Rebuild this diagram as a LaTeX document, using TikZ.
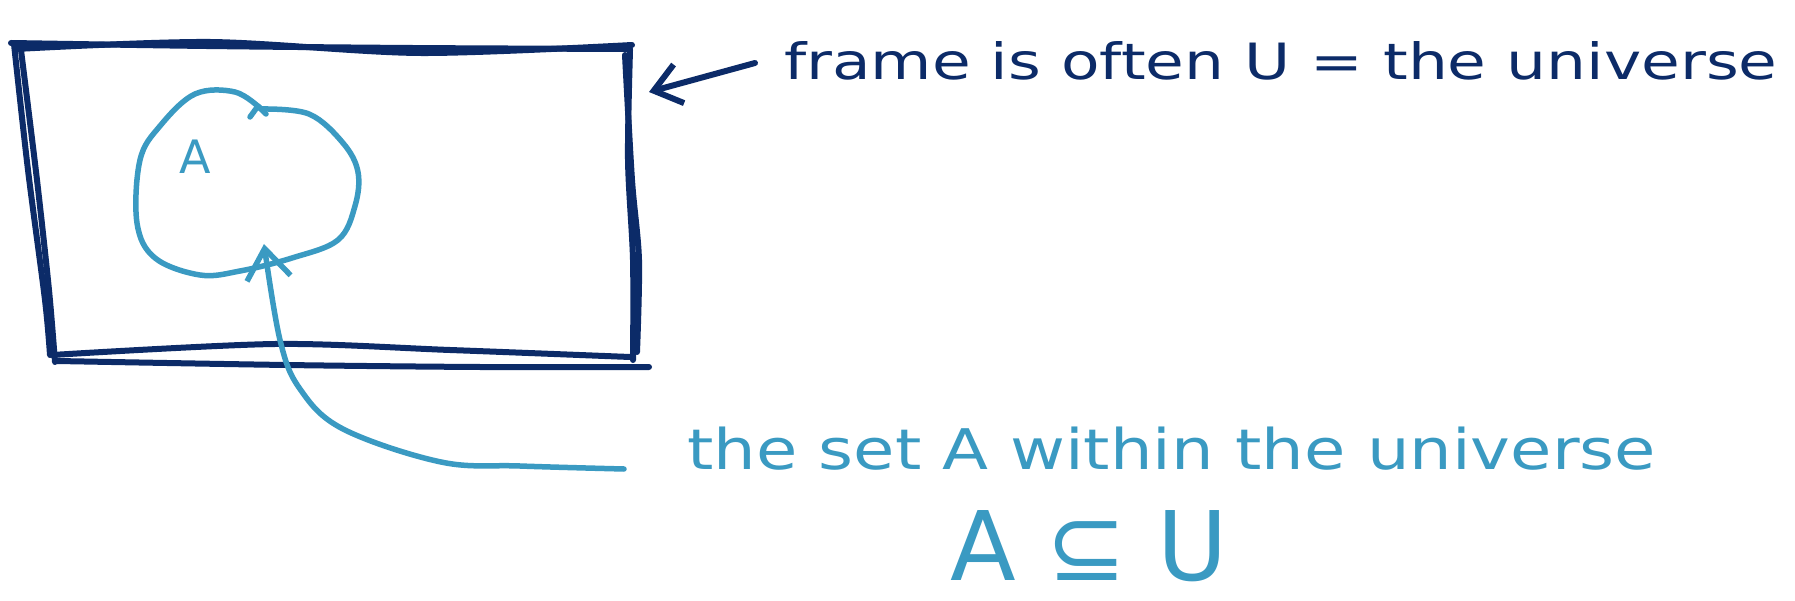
\documentclass[tikz,border=0pt]{standalone}
\usepackage{fontspec}
\setmainfont{DejaVu Sans}
\usetikzlibrary{arrows.meta}
\definecolor{navy}{HTML}{0C2B68}
\definecolor{setblue}{HTML}{3A9AC2}
\tikzset{
  frameline/.style={draw=navy, line width=6pt, line cap=round, line join=round},
  setline/.style={draw=setblue, line width=5.5pt, line cap=round, line join=round},
  navytext/.style={text=navy, inner sep=0pt},
  bluetext/.style={text=setblue, inner sep=0pt},
}
\begin{document}
\begin{tikzpicture}[x=1pt,y=-1pt]
\useasboundingbox (0,0) rectangle (1795,601);
\fill[white] (0,0) rectangle (1795,601);
% frame (hand drawn, double strokes)
\coordinate (fNW) at (14,44);
\coordinate (fNE) at (630,49);
\coordinate (fSE) at (633,360);
\coordinate (fSW) at (52,358);
\draw[frameline] plot[smooth] coordinates {(11,43) (206,46) (412,48) (630,49)};
\draw[frameline] plot[smooth] coordinates {(16,49) (210,42) (420,53) (632,45)};
\draw[frameline] plot[smooth] coordinates {(14,44) (28,170) (45,300) (50,355)};
\draw[frameline] plot[smooth] coordinates {(21,50) (37,180) (49,290) (55,362)};
\draw[frameline] plot[smooth] coordinates {(630,50) (628,160) (633,260) (633,360)};
\draw[frameline] plot[smooth] coordinates {(625,55) (632,180) (639,260) (637,352)};
\draw[frameline] plot[smooth] coordinates {(52,355) (275,344) (450,350) (630,357)};
\draw[frameline] plot[smooth] coordinates {(57,361) (286,365) (480,367) (649,367)};
% set A
\draw[setline] plot[smooth, tension=0.6] coordinates {(261,109) (309,114) (343,143) (358,172) (355,206) (338,240) (292,258) (240,271) (200,275) (155,258) (137,223) (140,160) (160,126) (195,94) (235,92) (261,109)};
\draw[setline] (250,117) -- (258,106) -- (266,114);
\node[bluetext, font=\fontsize{46}{46}\selectfont] (labelA) at (195,157) {A};
% text 1
\node[navytext, anchor=base west, font=\fontsize{50}{50}\selectfont] (ftext) at (784,80) {\scalebox{1.26}[1]{frame is often U = the universe}};
\coordinate (fstart) at (755,63);
\coordinate (ftip) at (649,92);
\draw[frameline, -{Straight Barb[length=26pt,width=40pt]}] (fstart) -- (ftip);
% text 2
\node[bluetext, anchor=base west, font=\fontsize{56}{56}\selectfont] (stext) at (687,469) {\scalebox{1.2}[1]{the set A within the universe}};
\node[bluetext, anchor=base west, text depth=0pt, font=\fontsize{96}{96}\selectfont] (subset) at (950,580) {A ⊆ U};
\coordinate (sstart) at (624,469);
\coordinate (stip) at (264,244);
\draw[setline, -{Straight Barb[length=30pt,width=44pt]}] plot[smooth, tension=0.6] coordinates {(sstart) (520,466) (441,462) (343,429) (300,389) (280,340) (264,244)};
\end{tikzpicture}
\end{document}
